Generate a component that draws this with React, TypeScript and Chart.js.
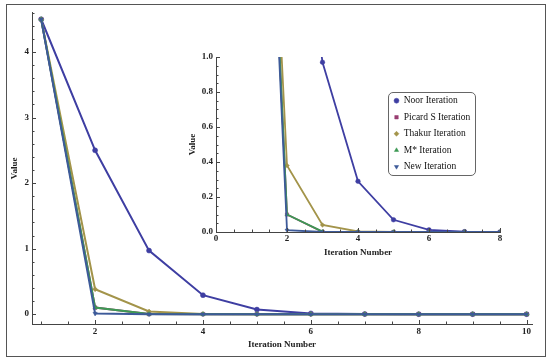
import React, { useEffect, useRef } from "react";
import { Chart, registerables } from "chart.js";

Chart.register(...registerables);

// ---------- data ----------
const iterations = [1, 2, 3, 4, 5, 6, 7, 8, 9, 10];
const noorValues = [4.5, 2.5, 0.97, 0.29, 0.07, 0.012, 0.002, 0, 0, 0];
const picardSValues = [4.5, 0.1, 0.001, 0, 0, 0, 0, 0, 0, 0];
const thakurValues = [4.5, 0.38, 0.04, 0.003, 0, 0, 0, 0, 0, 0];
const mStarValues = [4.5, 0.1, 0.002, 0, 0, 0, 0, 0, 0, 0];
const newValues = [4.5, 0.01, 0, 0, 0, 0, 0, 0, 0, 0];

const seriesNames = [
  "Noor Iteration",
  "Picard S Iteration",
  "Thakur Iteration",
  "M* Iteration",
  "New Iteration",
];

const mainXTicks = [2, 4, 6, 8, 10];
const mainYTicks = [0, 1, 2, 3, 4];
const insetXTicks = [0, 2, 4, 6, 8];
const insetYTicks = [0, 0.2, 0.4, 0.6, 0.8, 1.0];
const insetYTickLabels = ["0.0", "0.2", "0.4", "0.6", "0.8", "1.0"];

const xTitle = "Iteration Number";
const yTitle = "Value";

// ---------- styles ----------
const seriesValues = [noorValues, picardSValues, thakurValues, mStarValues, newValues];
const colors = ["#3E3EA2", "#993D71", "#A3944A", "#3D9954", "#3D5A99"];
const pointStyles = ["circle", "rect", "rectRot", "triangle", "triangle"];
const pointRotations = [0, 0, 0, 0, 180];
const drawOrder = [5, 4, 3, 2, 1];

const SERIF = "'Liberation Serif', 'Times New Roman', serif";
const axisColor = "#444";
const textColor = "#222";

function buildDatasets(lineWidth: number, radius: number) {
  return seriesNames.map((name, i) => ({
    label: name,
    data: iterations.map((x, j) => ({ x, y: seriesValues[i][j] })),
    borderColor: colors[i],
    backgroundColor: colors[i],
    pointBackgroundColor: colors[i],
    pointBorderColor: colors[i],
    pointStyle: pointStyles[i] as any,
    pointRotation: pointRotations[i],
    pointRadius: radius,
    pointBorderWidth: 0.5,
    borderWidth: lineWidth,
    tension: 0,
    order: drawOrder[i],
  }));
}

const inwardTicks = {
  id: "inwardTicks",
  afterDraw(chart: any, _args: any, opts: any) {
    const { ctx, chartArea } = chart;
    const xs = chart.scales.x;
    const ys = chart.scales.y;
    ctx.save();
    ctx.strokeStyle = opts.color;
    ctx.lineWidth = 1;
    const isMajor = (arr: number[], v: number) => arr.some((m) => Math.abs(m - v) < 1e-6);
    const drawX = (v: number, len: number) => {
      const px = Math.round(xs.getPixelForValue(v)) + 0.5;
      ctx.beginPath();
      ctx.moveTo(px, chartArea.bottom);
      ctx.lineTo(px, chartArea.bottom - len);
      ctx.stroke();
    };
    const drawY = (v: number, len: number) => {
      const py = Math.round(ys.getPixelForValue(v)) + 0.5;
      ctx.beginPath();
      ctx.moveTo(chartArea.left, py);
      ctx.lineTo(chartArea.left + len, py);
      ctx.stroke();
    };
    const k0x = Math.ceil(xs.min / opts.xMinorStep - 1e-9);
    for (let k = k0x; k * opts.xMinorStep <= xs.max + 1e-9; k++) {
      const v = k * opts.xMinorStep;
      drawX(v, isMajor(opts.xMajor, v) ? opts.majorLen : opts.minorLen);
    }
    const k0y = Math.ceil(ys.min / opts.yMinorStep - 1e-9);
    for (let k = k0y; k * opts.yMinorStep <= ys.max + 1e-9; k++) {
      const v = k * opts.yMinorStep;
      drawY(v, isMajor(opts.yMajor, v) ? opts.majorLen : opts.minorLen);
    }
    ctx.restore();
  },
};

const tickFont = { family: SERIF, size: 9, weight: "bold" as const };
const titleFont = { family: SERIF, size: 9, weight: "bold" as const };

export default function App() {
  const mainRef = useRef<HTMLCanvasElement>(null);
  const insetRef = useRef<HTMLCanvasElement>(null);
  const legendRef = useRef<HTMLCanvasElement>(null);

  useEffect(() => {
    const mainChart = new Chart(mainRef.current!, {
      type: "line",
      data: { datasets: buildDatasets(2, 2.5) as any },
      plugins: [inwardTicks],
      options: {
        animation: false,
        responsive: false,
        events: [],
        layout: { padding: { left: 0, right: 20, top: 12.7, bottom: 0 } },
        scales: {
          x: {
            type: "linear",
            min: 0.83,
            max: 10.1,
            afterBuildTicks: (s: any) => {
              s.ticks = mainXTicks.map((v) => ({ value: v }));
            },
            afterFit: (s: any) => {
              s.height = 37;
            },
            ticks: { font: tickFont, color: textColor, padding: 2, maxRotation: 0, autoSkip: false, callback: (v: any) => String(v) },
            grid: { display: false, drawTicks: false },
            border: { display: true, color: axisColor, width: 1 },
            title: { display: true, text: xTitle, font: titleFont, color: textColor, padding: { top: 0, bottom: 10.6 } },
          },
          y: {
            type: "linear",
            min: -0.15,
            max: 4.6,
            afterBuildTicks: (s: any) => {
              s.ticks = mainYTicks.map((v) => ({ value: v }));
            },
            afterFit: (s: any) => {
              s.width = 32;
            },
            ticks: { font: tickFont, color: textColor, padding: 3, autoSkip: false, callback: (v: any) => String(v) },
            grid: { display: false, drawTicks: false },
            border: { display: true, color: axisColor, width: 1 },
            title: { display: true, text: yTitle, font: titleFont, color: textColor, padding: { top: 9.6, bottom: 0 } },
          },
        },
        plugins: {
          legend: { display: false },
          tooltip: { enabled: false },
          inwardTicks: {
            color: axisColor,
            xMajor: mainXTicks,
            yMajor: mainYTicks,
            xMinorStep: 0.5,
            yMinorStep: 0.2,
            majorLen: 4,
            minorLen: 2.5,
          },
        } as any,
      },
    });

    const insetChart = new Chart(insetRef.current!, {
      type: "line",
      data: { datasets: buildDatasets(1.8, 2.3) as any },
      plugins: [inwardTicks],
      options: {
        animation: false,
        responsive: false,
        events: [],
        layout: { padding: { left: 0, right: 10, top: 17, bottom: 0 } },
        scales: {
          x: {
            type: "linear",
            min: 0,
            max: 8,
            afterBuildTicks: (s: any) => {
              s.ticks = insetXTicks.map((v) => ({ value: v }));
            },
            afterFit: (s: any) => {
              s.height = 33;
            },
            ticks: { font: tickFont, color: textColor, padding: 1.5, maxRotation: 0, autoSkip: false, callback: (v: any) => String(v) },
            grid: { display: false, drawTicks: false },
            border: { display: true, color: axisColor, width: 1, z: 1 } as any,
            title: { display: true, text: xTitle, font: titleFont, color: textColor, padding: { top: 0, bottom: 6.6 } },
          },
          y: {
            type: "linear",
            min: 0,
            max: 1,
            afterBuildTicks: (s: any) => {
              s.ticks = insetYTicks.map((v) => ({ value: v }));
            },
            afterFit: (s: any) => {
              s.width = 36;
            },
            ticks: {
              font: tickFont,
              color: textColor,
              padding: 3,
              autoSkip: false,
              callback: (_v: any, i: number) => insetYTickLabels[i],
            },
            grid: { display: false, drawTicks: false },
            border: { display: true, color: axisColor, width: 1, z: 1 } as any,
            title: { display: true, text: yTitle, font: titleFont, color: textColor, padding: { top: 7.6, bottom: 0 } },
          },
        },
        plugins: {
          legend: { display: false },
          tooltip: { enabled: false },
          inwardTicks: {
            color: axisColor,
            xMajor: insetXTicks,
            yMajor: insetYTicks,
            xMinorStep: 0.5,
            yMinorStep: 0.05,
            majorLen: 4,
            minorLen: 2.5,
          },
        } as any,
      },
    });

    const legendChart = new Chart(legendRef.current!, {
      type: "line",
      data: {
        datasets: seriesNames.map((name, i) => ({
          label: name,
          data: [],
          borderColor: colors[i],
          backgroundColor: colors[i],
          pointBackgroundColor: colors[i],
          pointBorderColor: colors[i],
          pointStyle: pointStyles[i] as any,
          pointRotation: pointRotations[i],
          pointBorderWidth: 0.5,
        })) as any,
      },
      options: {
        animation: false,
        responsive: false,
        events: [],
        layout: { padding: 0 },
        scales: { x: { display: false }, y: { display: false } },
        plugins: {
          tooltip: { enabled: false },
          legend: {
            display: true,
            position: "top",
            align: "start",
            maxHeight: 300,
            labels: {
              usePointStyle: true,
              boxWidth: 5,
              boxHeight: 3.5,
              padding: 7,
              color: "#111",
              font: { family: SERIF, size: 9.5 },
              sort: (a: any, b: any) => a.datasetIndex - b.datasetIndex,
            },
          } as any,
        },
      },
    });

    return () => {
      mainChart.destroy();
      insetChart.destroy();
      legendChart.destroy();
    };
  }, []);

  return (
    <div style={{ position: "fixed", left: 0, top: 0, width: 552, height: 361, background: "#fff", overflow: "hidden" }}>
      <canvas ref={mainRef} width={552} height={361} style={{ position: "absolute", left: 0, top: 0, display: "block" }} />
      <canvas ref={insetRef} width={330} height={225} style={{ position: "absolute", left: 180, top: 40, display: "block" }} />
      <div
        style={{
          position: "absolute",
          left: 388,
          top: 92,
          width: 88,
          height: 84,
          boxSizing: "border-box",
          border: "1px solid #666",
          borderRadius: 5,
          background: "#fff",
        }}
      />
      <canvas ref={legendRef} width={92} height={100} style={{ position: "absolute", left: 386.5, top: 89, display: "block" }} />
      <div
        style={{
          position: "absolute",
          left: 6,
          top: 4,
          width: 540,
          height: 353,
          boxSizing: "border-box",
          border: "1.5px solid #555",
          pointerEvents: "none",
        }}
      />
    </div>
  );
}
